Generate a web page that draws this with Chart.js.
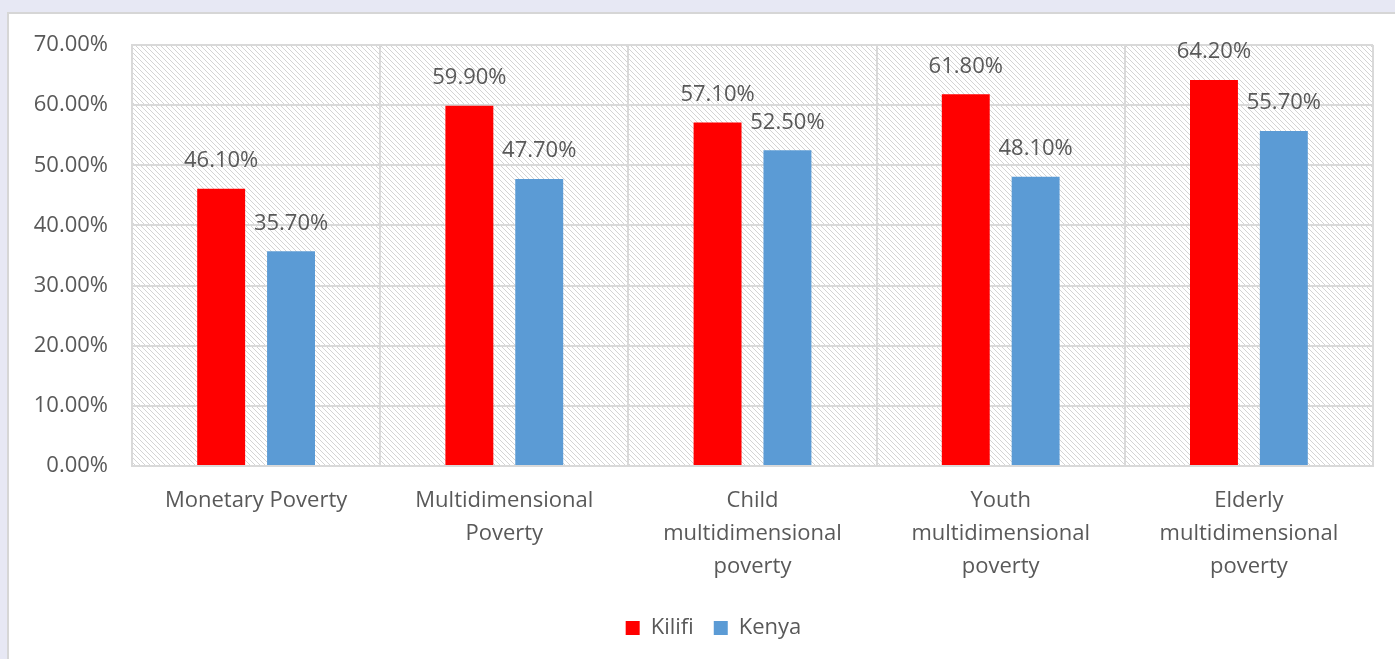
<!DOCTYPE html>
<html>
<head>
<meta charset="utf-8">
<script src="https://cdn.jsdelivr.net/npm/chart.js@4"></script>
<style>
  html, body { margin: 0; padding: 0; }
  body { width: 1395px; height: 659px; background: #e7e8f4; position: relative; overflow: hidden; }
  #panel { position: absolute; left: 7px; top: 12px; width: 1400px; height: 660px; background: #fff; border-left: 2px solid #d6d6d6; border-top: 2px solid #d6d6d6; }
  #wrap { position: absolute; left: 0; top: 0; width: 1395px; height: 659px; }
</style>
</head>
<body>
<div id="panel"></div>
<div id="wrap"><canvas id="povertyChart"></canvas></div>
<script>
const categories = [
    'Monetary Poverty',
    ['Multidimensional', 'Poverty'],
    ['Child', 'multidimensional', 'poverty'],
    ['Youth', 'multidimensional', 'poverty'],
    ['Elderly', 'multidimensional', 'poverty']
];
const kilifi = [46.1, 59.9, 57.1, 61.8, 64.2];
const kenya = [35.7, 47.7, 52.5, 48.1, 55.7];
const yTicks = [0, 10, 20, 30, 40, 50, 60, 70];

const textColor = '#595959';
const fontFamily = '"Open Sans", sans-serif';

function makeHatch() {
    const c = document.createElement('canvas');
    c.width = 5;
    c.height = 5;
    const g = c.getContext('2d');
    g.fillStyle = '#ffffff';
    g.fillRect(0, 0, 5, 5);
    g.strokeStyle = '#d4d4d4';
    g.lineWidth = 1;
    g.beginPath();
    g.moveTo(-1, -1); g.lineTo(6, 6);
    g.moveTo(-1, 4); g.lineTo(1, 6);
    g.moveTo(4, -1); g.lineTo(6, 1);
    g.stroke();
    return g.createPattern(c, 'repeat');
}

// paints the hatched plot background
const hatchBackground = {
    id: 'hatchBackground',
    beforeDraw(chart) {
        const { ctx, chartArea } = chart;
        if (!chartArea) return;
        ctx.save();
        ctx.fillStyle = makeHatch();
        ctx.fillRect(chartArea.left, chartArea.top, chartArea.right - chartArea.left, chartArea.bottom - chartArea.top);
        ctx.restore();
    }
};

// legend sits a little right of centre in the original
const legendShift = {
    id: 'legendShift',
    afterLayout(chart) {
        if (!chart.legend) return;
        chart.legend.left += 27;
        chart.legend.right += 27;
    }
};

// value labels above each bar
const barValueLabels = {
    id: 'barValueLabels',
    afterDatasetsDraw(chart) {
        const { ctx } = chart;
        ctx.save();
        ctx.font = '22px ' + fontFamily;
        ctx.fillStyle = textColor;
        ctx.textAlign = 'center';
        ctx.textBaseline = 'middle';
        chart.data.datasets.forEach((ds, i) => {
            chart.getDatasetMeta(i).data.forEach((bar, j) => {
                ctx.fillText(ds.data[j].toFixed(2) + '%', bar.x, bar.y - 28);
            });
        });
        ctx.restore();
    }
};

const ctx = document.getElementById('povertyChart').getContext('2d');

new Chart(ctx, {
    type: 'bar',
    data: {
        labels: categories,
        datasets: [{
            label: 'Kilifi',
            data: kilifi,
            backgroundColor: '#ff0000',
            borderWidth: 0,
            barPercentage: 0.686,
            categoryPercentage: 0.563
        }, {
            label: 'Kenya',
            data: kenya,
            backgroundColor: '#5b9bd5',
            borderWidth: 0,
            barPercentage: 0.686,
            categoryPercentage: 0.563
        }]
    },
    options: {
        responsive: true,
        maintainAspectRatio: false,
        animation: false,
        layout: {
            padding: { left: 0, top: 45, right: 22, bottom: 10 }
        },
        scales: {
            y: {
                min: 0,
                max: 70,
                afterFit(scale) { scale.width = 132; },
                afterBuildTicks(scale) { scale.ticks = yTicks.map(v => ({ value: v })); },
                ticks: {
                    color: textColor,
                    padding: 24,
                    font: { family: fontFamily, size: 22 },
                    callback: v => v.toFixed(2) + '%'
                },
                grid: { color: '#d9d9d9', lineWidth: 2, drawTicks: false },
                border: { color: '#d9d9d9', width: 2 }
            },
            x: {
                afterFit(scale) { scale.height = 131; },
                ticks: {
                    color: textColor,
                    padding: 18,
                    autoSkip: false,
                    maxRotation: 0,
                    minRotation: 0,
                    font: { family: fontFamily, size: 22, lineHeight: 1.5 }
                },
                grid: { color: '#d9d9d9', lineWidth: 2, drawTicks: false, offset: true },
                border: { color: '#d9d9d9', width: 2 }
            }
        },
        plugins: {
            legend: {
                position: 'bottom',
                labels: {
                    color: textColor,
                    boxWidth: 14,
                    boxHeight: 14,
                    padding: 20,
                    font: { family: fontFamily, size: 22 }
                }
            },
            tooltip: { enabled: false }
        }
    },
    plugins: [hatchBackground, legendShift, barValueLabels]
});
</script>
</body>
</html>
